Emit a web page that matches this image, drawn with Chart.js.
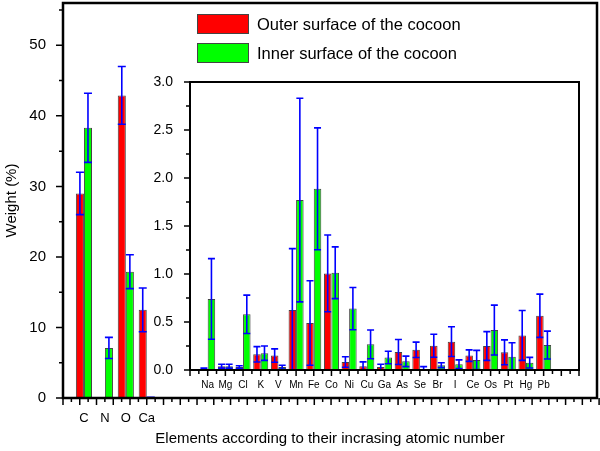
<!DOCTYPE html>
<html lang="en">
<head>
<meta charset="UTF-8" />
<meta name="viewport" content="width=device-width, initial-scale=1" />
<title>Elements on the cocoon surfaces</title>
<style>
  body {
    font-family: 'Liberation Sans', Arial, sans-serif;
    background: #fff;
    margin: 0;
  }
  .wrap { position: relative; width: 600px; height: 451px; }
  #mainChart { position: absolute; left: 0; top: 0; }
  #insetChart { position: absolute; left: 140px; top: 72px; }
  .legend { position: absolute; left: 197px; top: 0; font-size: 16.5px; color: #000; }
  .legend .sw {
    position: absolute; left: 0; width: 52px; height: 20px; box-sizing: border-box;
    border: 1px solid #444;
  }
  .legend .txt { position: absolute; left: 60px; white-space: nowrap; line-height: 20px; }
</style>
</head>
<body>

<div class="wrap">
  <canvas id="mainChart" width="600" height="451"></canvas>
  <canvas id="insetChart" width="450" height="320"></canvas>
  <div class="legend">
    <div class="sw" style="top:14px; background:#ff0000"></div>
    <div class="txt" style="top:14px">Outer surface of the cocoon</div>
    <div class="sw" style="top:43px; background:#00ff00"></div>
    <div class="txt" style="top:43px">Inner surface of the cocoon</div>
  </div>
</div>

<script src="https://cdn.jsdelivr.net/npm/chart.js"></script>
<script>
  // Main elements (C, N, O, Ca), weight %
  const mainElements = ['C', 'N', 'O', 'Ca'];
  const mainOuter    = [29.0, null, 42.9, 12.5];
  const mainOuterErr = [3.0, null, 4.1, 3.1];
  const mainInner    = [38.3, 7.1, 17.9, 0.05];
  const mainInnerErr = [4.9, 1.5, 2.4, 0.05];
  const mainYTicks   = [0, 10, 20, 30, 40, 50];

  // Trace elements (inset), weight %
  const insetElements = ['Na', 'Mg', 'Cl', 'K', 'V', 'Mn', 'Fe', 'Co', 'Ni', 'Cu',
                         'Ga', 'As', 'Se', 'Br', 'I', 'Ce', 'Os', 'Pt', 'Hg', 'Pb'];
  const insetOuter    = [0.005, 0.04, 0.03, 0.163, 0.15, 0.624, 0.49, 1.006, 0.083, 0.04,
                         0.03, 0.187, 0.21, 0.253, 0.295, 0.15, 0.25, 0.184, 0.36, 0.565];
  const insetOuterErr = [0.015, 0.02, 0.015, 0.08, 0.07, 0.64, 0.44, 0.4, 0.055, 0.045,
                         0.03, 0.13, 0.08, 0.12, 0.155, 0.06, 0.15, 0.13, 0.26, 0.225];
  const insetInner    = [0.74, 0.04, 0.58, 0.175, 0.03, 1.77, 1.887, 1.013, 0.64, 0.267,
                         0.13, 0.09, 0.01, 0.05, 0.06, 0.104, 0.416, 0.139, 0.076, 0.26];
  const insetInnerErr = [0.42, 0.02, 0.2, 0.075, 0.02, 1.06, 0.635, 0.27, 0.22, 0.15,
                         0.065, 0.055, 0.025, 0.025, 0.045, 0.1, 0.26, 0.145, 0.055, 0.145];
  const insetYTicks   = [0, 0.5, 1.0, 1.5, 2.0, 2.5, 3.0];

  const FONT = "'Liberation Sans', Arial, sans-serif";
  const toPoints = vals => vals.map((v, i) => ({ x: i + 1, y: v }));

  // blue error bars on top of each bar
  const errorBars = {
    id: 'errorBars',
    afterDatasetsDraw(chart, args, opts) {
      const { ctx, chartArea: a } = chart;
      const y = chart.scales.y;
      ctx.save();
      ctx.beginPath();
      ctx.rect(a.left, a.top - 2, a.width, a.height + 1);
      ctx.clip();
      ctx.strokeStyle = '#0000ff';
      ctx.lineWidth = opts.lineWidth;
      opts.errors.forEach((errs, di) => {
        const meta = chart.getDatasetMeta(di);
        meta.data.forEach((bar, i) => {
          const v = chart.data.datasets[di].data[i].y;
          const e = errs[i];
          if (v == null || e == null) return;
          const top = y.getPixelForValue(v + e);
          const bot = y.getPixelForValue(v - e);
          const hw = opts.capWidth / 2;
          ctx.beginPath();
          ctx.moveTo(bar.x, top); ctx.lineTo(bar.x, bot);
          ctx.moveTo(bar.x - hw, top); ctx.lineTo(bar.x + hw, top);
          ctx.moveTo(bar.x - hw, bot); ctx.lineTo(bar.x + hw, bot);
          ctx.stroke();
        });
      });
      ctx.restore();
    }
  };

  // box frame + outward major/minor tick marks
  const frameTicks = {
    id: 'frameTicks',
    afterDatasetsDraw(chart, args, opts) {
      const { ctx, chartArea: a, scales } = chart;
      ctx.save();
      ctx.strokeStyle = '#000';
      ctx.lineWidth = opts.tickWidth;
      ctx.beginPath();
      const xs = scales.x, ys = scales.y;
      let n = Math.round((xs.max - xs.min) / opts.xStep);
      for (let k = 0; k <= n; k++) {
        const px = xs.getPixelForValue(xs.min + k * opts.xStep);
        const len = k % opts.xEvery === 0 ? opts.major : opts.minor;
        ctx.moveTo(px, a.bottom); ctx.lineTo(px, a.bottom + len);
      }
      n = Math.round((ys.max - ys.min) / opts.yStep);
      for (let k = 0; k <= n; k++) {
        const py = ys.getPixelForValue(ys.min + k * opts.yStep);
        const len = k % opts.yEvery === 0 ? opts.major : opts.minor;
        ctx.moveTo(a.left, py); ctx.lineTo(a.left - len, py);
      }
      ctx.stroke();
      ctx.lineWidth = opts.lineWidth;
      ctx.strokeRect(a.left, a.top, a.width, a.height);
      ctx.restore();
    }
  };

  const barStyle = (label, color, data) => ({
    label, data,
    backgroundColor: color,
    borderColor: '#444',
    borderWidth: 1,
    borderSkipped: false
  });

  // fixed axis sizes, no extra label padding from Chart.js
  const fixWidth = w => s => { s.width = w; s.paddingTop = 0; s.paddingBottom = 0; };
  const fixHeight = h => s => { s.height = h; s.paddingLeft = 0; s.paddingRight = 0; };

  new Chart(document.getElementById('mainChart'), {
    type: 'bar',
    data: {
      datasets: [
        barStyle('Outer surface of the cocoon', '#ff0000', toPoints(mainOuter)),
        barStyle('Inner surface of the cocoon', '#00ff00', toPoints(mainInner))
      ]
    },
    options: {
      responsive: false,
      animation: false,
      categoryPercentage: 0.77,
      barPercentage: 1.0,
      layout: { padding: { top: 3, right: 3, left: 0, bottom: 0 } },
      scales: {
        x: {
          type: 'linear', min: 0, max: 25.5, offset: false,
          grid: { display: false, drawTicks: false, offset: false },
          border: { display: false },
          afterFit: fixHeight(53),
          afterBuildTicks: s => { s.ticks = mainElements.map((e, i) => ({ value: i + 1 })); },
          ticks: {
            autoSkip: false, maxRotation: 0, padding: 13,
            color: '#000', font: { family: FONT, size: 13 },
            callback: (v) => mainElements[Math.round(v) - 1]
          },
          title: {
            display: true, text: 'Elements according to their incrasing atomic number',
            color: '#000', font: { family: FONT, size: 15 }, padding: { top: 0, bottom: 3 }
          }
        },
        y: {
          min: 0, max: 56,
          grid: { display: false, drawTicks: false },
          border: { display: false },
          afterFit: fixWidth(63),
          afterBuildTicks: s => { s.ticks = mainYTicks.map(v => ({ value: v })); },
          ticks: { padding: 17, color: '#000', font: { family: FONT, size: 15 } },
          title: {
            display: true, text: 'Weight (%)',
            color: '#000', font: { family: FONT, size: 15 }, padding: 3
          }
        }
      },
      plugins: {
        legend: { display: false },
        tooltip: { enabled: false },
        errorBars: { errors: [mainOuterErr, mainInnerErr], lineWidth: 1.6, capWidth: 8 },
        frameTicks: { lineWidth: 2.5, tickWidth: 1.5, xStep: 0.4, xEvery: 2, yStep: 5, yEvery: 2, major: 7, minor: 4 }
      }
    },
    plugins: [errorBars, frameTicks]
  });

  new Chart(document.getElementById('insetChart'), {
    type: 'bar',
    data: {
      datasets: [
        barStyle('Outer surface of the cocoon', '#ff0000', toPoints(insetOuter)),
        barStyle('Inner surface of the cocoon', '#00ff00', toPoints(insetInner))
      ]
    },
    options: {
      responsive: false,
      animation: false,
      categoryPercentage: 0.85,
      barPercentage: 1.0,
      layout: { padding: { top: 10, right: 11, left: 0, bottom: 0 } },
      scales: {
        x: {
          type: 'linear', min: 0, max: 22, offset: false,
          grid: { display: false, drawTicks: false, offset: false },
          border: { display: false },
          afterFit: fixHeight(22),
          afterBuildTicks: s => { s.ticks = insetElements.map((e, i) => ({ value: i + 1 })); },
          ticks: {
            autoSkip: false, maxRotation: 0, padding: 9,
            color: '#000', font: { family: FONT, size: 10 },
            callback: (v) => insetElements[Math.round(v) - 1]
          }
        },
        y: {
          min: 0, max: 3,
          grid: { display: false, drawTicks: false },
          border: { display: false },
          afterFit: fixWidth(50),
          afterBuildTicks: s => { s.ticks = insetYTicks.map(v => ({ value: v })); },
          ticks: {
            padding: 17, color: '#000', font: { family: FONT, size: 14 },
            callback: v => v.toFixed(1)
          }
        }
      },
      plugins: {
        legend: { display: false },
        tooltip: { enabled: false },
        errorBars: { errors: [insetOuterErr, insetInnerErr], lineWidth: 1.6, capWidth: 7 },
        frameTicks: { lineWidth: 2, tickWidth: 1.5, xStep: 0.5, xEvery: 2, yStep: 0.25, yEvery: 2, major: 6, minor: 4 }
      }
    },
    plugins: [errorBars, frameTicks]
  });
</script>
</body>
</html>
